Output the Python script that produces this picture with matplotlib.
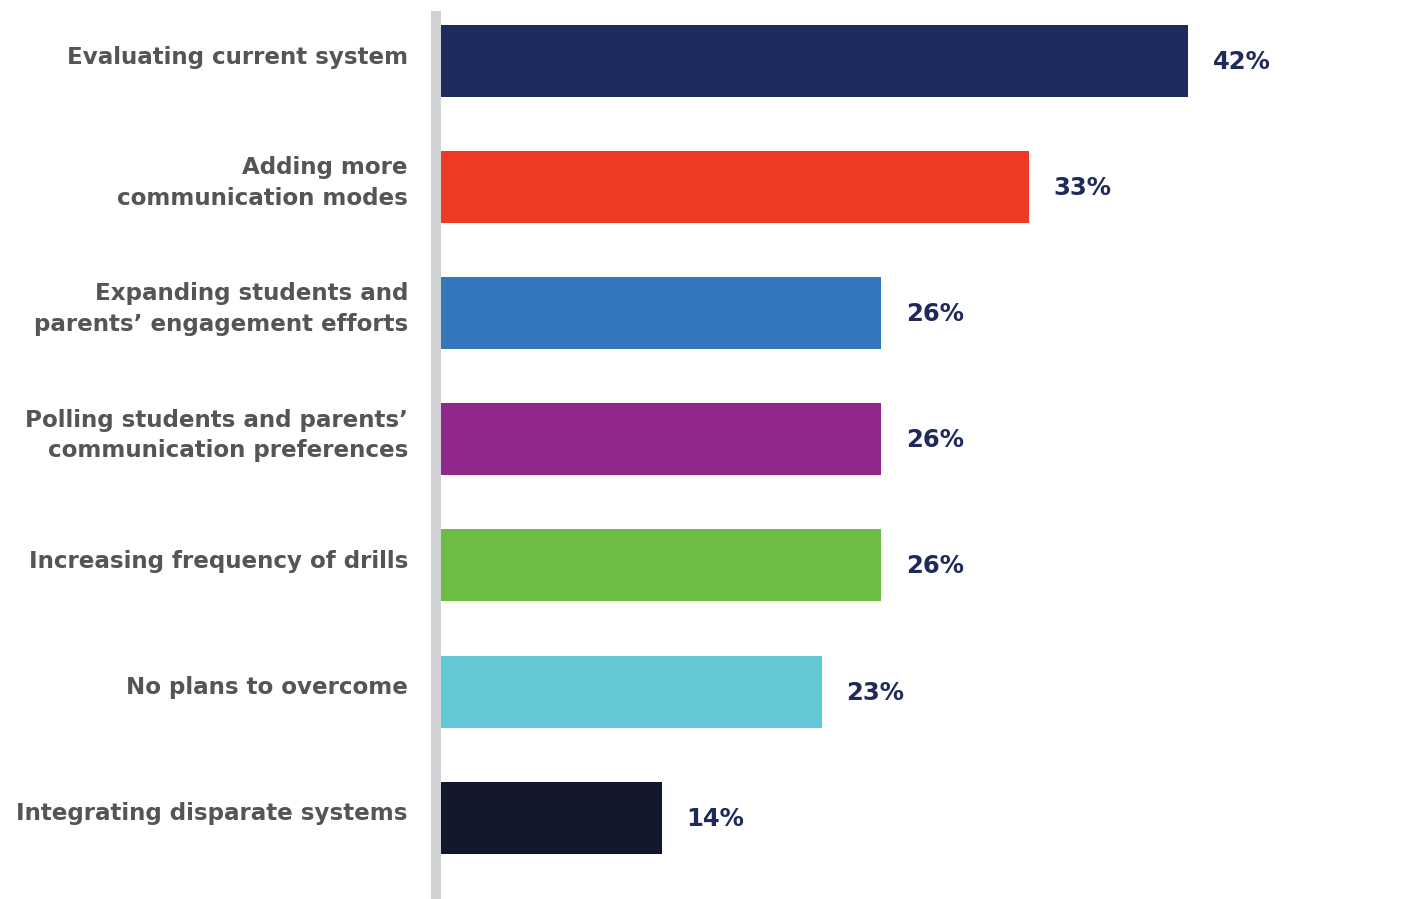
import matplotlib
matplotlib.use("Agg")
import matplotlib.pyplot as plt
from matplotlib.patches import Rectangle
from matplotlib.transforms import offset_copy

categories = [
    "Evaluating current system",
    "Adding more\ncommunication modes",
    "Expanding students and\nparents\u2019 engagement efforts",
    "Polling students and parents\u2019\ncommunication preferences",
    "Increasing frequency of drills",
    "No plans to overcome",
    "Integrating disparate systems",
]
bar_values = [42, 33.05, 24.75, 24.75, 24.75, 21.4, 12.4]
value_labels = ["42%", "33%", "26%", "26%", "26%", "23%", "14%"]
colors = ["#1f2b5c", "#ef3b24", "#3378bd", "#90288c", "#6dbd45", "#62c8d6", "#13172a"]

W, H = 1411, 899
fig = plt.figure(figsize=(W / 100, H / 100), dpi=100)
fig.patch.set_facecolor("white")

px_per = 747 / 42.0
ax_left = 441
ax = fig.add_axes([ax_left / W, 0, (W - ax_left) / W, 1])
ax.set_xlim(0, (W - ax_left) / px_per)
spacing = 126.1
top = -61 / spacing
bottom = (H - 61) / spacing
ax.set_ylim(bottom, top)

y = list(range(len(categories)))
ax.barh(y, bar_values, height=72 / spacing, color=colors, align="center")
ax.axis("off")

font = "DejaVu Sans"
lab_tr = offset_copy(ax.transData, fig=fig, x=-33, y=4, units="dots")
val_tr = offset_copy(ax.transData, fig=fig, x=25, y=-1, units="dots")
for yi, (cat, val, lab) in enumerate(zip(categories, bar_values, value_labels)):
    ax.text(0, yi, cat, transform=lab_tr, ha="right", va="center",
            fontsize=16.6, fontweight="bold", color="#545557", family=font,
            linespacing=1.42)
    ax.text(val, yi, lab, transform=val_tr, ha="left", va="center",
            fontsize=17.5, fontweight="bold", color="#1f2a5a", family=font)

fig.patches.append(Rectangle((431 / W, 0), 10 / W, (H - 11) / H,
                             transform=fig.transFigure, facecolor="#d1d2d4",
                             edgecolor="none", zorder=5))

fig.savefig("out.png", dpi=100)
